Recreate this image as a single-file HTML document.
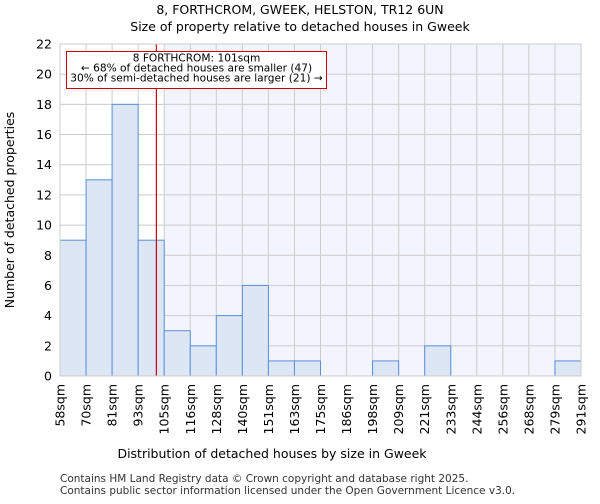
<!DOCTYPE html>
<html><head><meta charset="utf-8"><style>
body{margin:0;background:#fff;font-family:"DejaVu Sans","Liberation Sans",sans-serif;}
</style></head><body>
<svg width="600" height="500" xmlns="http://www.w3.org/2000/svg" font-family="DejaVu Sans, Liberation Sans, sans-serif">
<text x="300" y="14" text-anchor="middle" font-size="12.5">8, FORTHCROM, GWEEK, HELSTON, TR12 6UN</text>
<text x="300" y="31" text-anchor="middle" font-size="12.5">Size of property relative to detached houses in Gweek</text>
<g id="plot"></g>
<text x="272" y="458" text-anchor="middle" font-size="12.5">Distribution of detached houses by size in Gweek</text>
<text x="14" y="210" text-anchor="middle" font-size="12.5" transform="rotate(-90 14 210)">Number of detached properties</text>
<text x="60" y="482" font-size="10.5" fill="#333">Contains HM Land Registry data © Crown copyright and database right 2025.</text>
<text x="60" y="494" font-size="10.5" fill="#333">Contains public sector information licensed under the Open Government Licence v3.0.</text>
</svg>
<script>
const categories=["58sqm","70sqm","81sqm","93sqm","105sqm","116sqm","128sqm","140sqm","151sqm","163sqm","175sqm","186sqm","198sqm","209sqm","221sqm","233sqm","244sqm","256sqm","268sqm","279sqm","291sqm"];
const counts=[9,13,18,9,3,2,4,6,1,1,0,0,1,0,2,0,0,0,0,1];
const yTicks=[0,2,4,6,8,10,12,14,16,18,20,22];
const propertyBinPos=3.7;
const NS="http://www.w3.org/2000/svg";
const g=document.getElementById('plot');
const L=60,R=581,T=44,B=376,yMax=22;
const bw=(R-L)/counts.length;
const xs=i=>L+i*bw;
const ys=v=>B-(v/yMax)*(B-T);
function el(t,a){const e=document.createElementNS(NS,t);for(const k in a)e.setAttribute(k,a[k]);g.appendChild(e);return e;}
const bg=el('rect',{x:xs(4),y:T,width:R-xs(4),height:B-T,fill:'#f2f5fc'});


yTicks.forEach(v=>{
 const l=el('line',{x1:L,x2:R,y1:ys(v),y2:ys(v),stroke:'#ccc','stroke-width':1});
 
 
 const t=el('text',{x:L-8,y:ys(v)+4.5,'text-anchor':'end','font-size':'12.5'});
 t.textContent=v;
 
 
});
categories.forEach((c,i)=>{
 const x=xs(i);
 const l=el('line',{x1:x,x2:x,y1:T,y2:B,stroke:'#ccc','stroke-width':1});
 
 
 const t=el('text',{x:x+4.5,y:B+8,'text-anchor':'end','font-size':'12.5',transform:`rotate(-90 ${x+4.5} ${B+8})`});
 t.textContent=c;
 
 
});
counts.forEach((v,i)=>{
 if(v<=0)return;
 const r=el('rect',{x:xs(i),y:ys(v),width:bw,height:B-ys(v),fill:'#dce6f5',stroke:'#5b8fd6','stroke-width':1});
 
 
});
const px=xs(propertyBinPos);
const rl=el('line',{x1:px,x2:px,y1:T,y2:B,stroke:'#cc0000','stroke-width':1.2});


const box=el('rect',{x:66.5,y:51.5,width:260,height:37,fill:'#fff',stroke:'#cc0000','stroke-width':1});


["8 FORTHCROM: 101sqm","← 68% of detached houses are smaller (47)","30% of semi-detached houses are larger (21) →"].forEach((s,i)=>{
 const t=el('text',{x:196.5,y:61.5+i*10,'text-anchor':'middle','font-size':'10.6'});
 t.textContent=s;
 
 
});
const ax=el('rect',{x:L,y:T,width:R-L,height:B-T,fill:'none',stroke:'#ccc'});


</script>
</body></html>
